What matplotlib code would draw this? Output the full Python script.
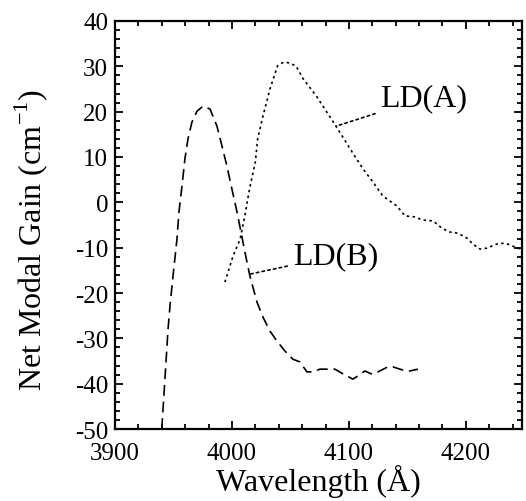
import matplotlib
matplotlib.use("Agg")
import matplotlib.pyplot as plt
from matplotlib.ticker import MultipleLocator

plt.rcParams['font.family'] = ['Liberation Serif', 'DejaVu Serif']
plt.rcParams['mathtext.fontset'] = 'custom'
plt.rcParams['mathtext.rm'] = 'Liberation Serif'
plt.rcParams['axes.unicode_minus'] = False

#%% Data ####################################################################
ldb_x = [3940, 3942.7, 3945.3, 3947, 3949.6, 3953, 3954.7, 3957.3, 3959.8,
         3962.4, 3965.8, 3970.1, 3975.2, 3981.2, 3987.2, 3991.5, 3995.7,
         4000, 4004.3, 4007.7, 4011.1, 4015.4, 4021.4, 4026.5, 4032.5,
         4038.5, 4045.3, 4052.1, 4058.1, 4064.1, 4069.2, 4075.2, 4088,
         4094, 4103.4, 4107.7, 4113.7, 4119.7, 4124.8, 4133.3, 4137.6,
         4146.2, 4152.1, 4159]
ldb_y = [-50, -39, -28.2, -22.9, -16.3, -8.1, -2.1, 3.6, 9.6,
         14.0, 17.7, 20.1, 21.2, 20.6, 16.8, 12.4, 8.0,
         2.9, -2.1, -6.5, -11.0, -16.3, -22.0, -25.3, -28.4,
         -30.6, -32.8, -34.6, -35.2, -37.4, -37.4, -36.8, -36.8,
         -37.7, -39.0, -38.3, -37.2, -37.9, -37.4, -36.3, -36.3,
         -37.0, -37.2, -36.8]

lda_x = [3994, 4001, 4007, 4011, 4015, 4020, 4022, 4026.5, 4032.5, 4039,
         4044, 4048, 4054.7, 4061, 4072, 4089, 4101, 4112, 4120.5, 4129,
         4141, 4148, 4156, 4163, 4172, 4178, 4185, 4193, 4201, 4206, 4212,
         4218, 4226.5, 4233, 4238, 4244, 4248]
lda_y = [-17.6, -11.8, -8.1, -3.0, 2.9, 8.9, 14.0, 19.0, 25.0, 30.1,
         30.9, 30.8, 30.1, 27.2, 23.5, 16.8, 11.8, 7.4, 4.5, 1.4,
         -0.8, -3.0, -3.2, -3.9, -4.1, -5.4, -6.5, -6.8, -7.9, -9.2, -10.3,
         -10.1, -9.2, -9.0, -9.4, -10.1, -10.3]

labels = ['LD(A)', 'LD(B)']
label_xy = [(4127, 23.0), (4052, -11.8)]
leader_xy = [(4089, 16.8), (4016, -15.8)]

#%% Plot #####################################################################
fig = plt.figure(figsize=(5.26, 5.02), dpi=100)
ax = fig.add_axes([0.2186, 0.1434, 0.7738, 0.8128])

ax.plot(ldb_x, ldb_y, color='black', lw=1.2, linestyle=(0, (6.5, 3.5)))
ax.plot(lda_x, lda_y, color='black', lw=1.2, linestyle=(0, (1.5, 2)))

for lab, txy, lxy in zip(labels, label_xy, leader_xy):
    ax.annotate(lab, xy=lxy, xytext=txy, fontsize=23, va='center', ha='left',
                arrowprops=dict(arrowstyle='-', color='black', lw=1.2,
                                linestyle=(0, (1.5, 2)), shrinkA=2, shrinkB=0))

ax.set_xlim(3900, 4248)
ax.set_ylim(-50, 40)
ax.xaxis.set_major_locator(MultipleLocator(100))
ax.xaxis.set_minor_locator(MultipleLocator(20))
ax.yaxis.set_major_locator(MultipleLocator(10))
ax.yaxis.set_minor_locator(MultipleLocator(2))
ax.tick_params(which='both', direction='in', top=True, right=True,
               labelsize=18, width=1.3)
ax.tick_params(which='major', length=6)
ax.tick_params(which='minor', length=3.5)
ax.tick_params(axis='y', which='major', pad=5)
ax.tick_params(axis='x', which='major', pad=9)
for s in ax.spines.values():
    s.set_linewidth(1.6)

ax.set_xlabel(u'Wavelength (\u00c5)', fontsize=23, labelpad=0)
ax.set_ylabel(r'Net Modal Gain (cm$^{-1}$)', fontsize=23)
ax.yaxis.set_label_coords(-0.16, 0.465)

fig.savefig('out.png', dpi=100)
